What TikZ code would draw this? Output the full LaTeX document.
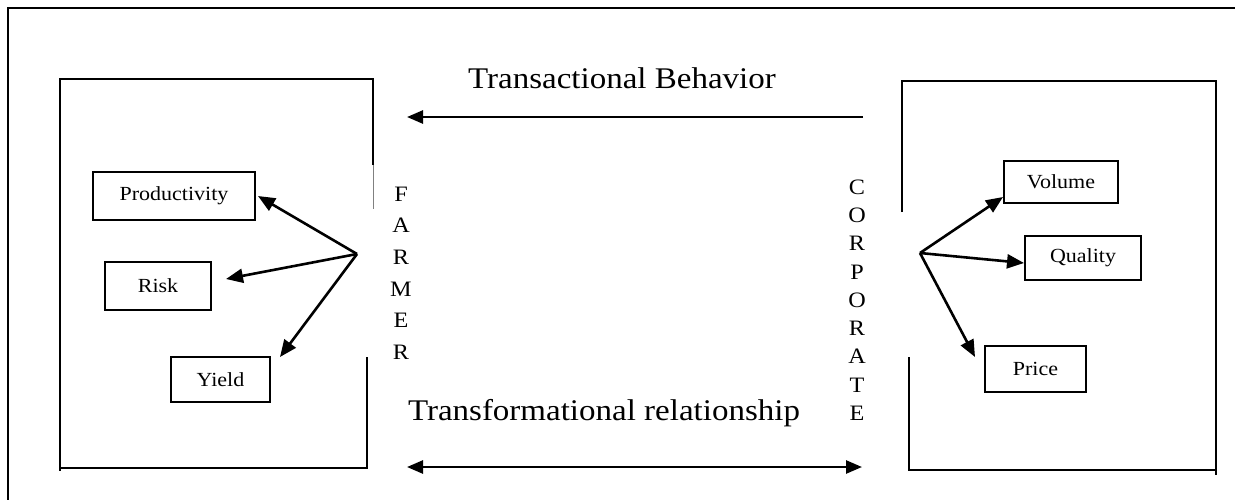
\documentclass[tikz,border=0pt]{standalone}
\usepackage{fontspec}
\setmainfont[FakeStretch=1.1]{Liberation Serif}
\usetikzlibrary{arrows.meta}
\begin{document}
\begin{tikzpicture}[x=1pt,y=-1pt,
  outerframe/.style={line width=2.4pt},
  panel/.style={line width=2pt},
  item/.style={draw,line width=1.8pt,rectangle,inner sep=0pt,font=\fontsize{20}{24}\selectfont},
  link/.style={line width=2.6pt,-{Triangle[length=17pt,width=14pt]}},
  biglink/.style={line width=2.6pt,{Triangle[length=16pt,width=13pt]}-{Triangle[length=16pt,width=13pt]}},
  letter/.style={inner sep=0pt,anchor=base,font=\fontsize{22}{26}\selectfont},
  heading/.style={inner sep=0pt,anchor=base,font=\fontsize{30}{36}\selectfont}]
\useasboundingbox (0,0) rectangle (1235,499);
\clip (0,0) rectangle (1235,499);
% outer frame (cut by the page at right and bottom)
\draw[outerframe] (8,8) rectangle (1260,520);
% farmer panel
\draw[panel] (373,165) -- (373,79) -- (60,79) -- (60,471);
\draw[panel] (60,468) -- (367,468) -- (367,357);
\draw[line width=0.8pt,gray] (373,165) -- (373,209);
% corporate panel
\draw[panel] (902,212) -- (902,81) -- (1216,81) -- (1216,475);
\draw[panel] (909,357) -- (909,470) -- (1216,470);
% boxes
\node[item,minimum width=162pt,minimum height=48pt] (prod) at (174,196) {Productivity};
\node[item,minimum width=106pt,minimum height=48pt] (risk) at (158,286) {Risk};
\node[item,minimum width=99pt,minimum height=45pt] (yield) at (220.5,379.5) {Yield};
\node[item,minimum width=114pt,minimum height=42pt] (volume) at (1061,182) {Volume};
\node[item,minimum width=116pt,minimum height=44pt] (quality) at (1083,258) {Quality};
\node[item,minimum width=101pt,minimum height=46pt] (price) at (1035.5,369) {Price};
% vertical words
\foreach \c [count=\i] in {F,A,R,M,E,R}
  \node[letter] (farmer\i) at (401,{201.3+31.6*(\i-1)}) {\c};
\foreach \c [count=\i] in {C,O,R,P,O,R,A,T,E}
  \node[letter] (corp\i) at (857,{194.3+28.25*(\i-1)}) {\c};
% headings
\node[heading] (tb) at (622,88) {Transactional Behavior};
\node[heading] (tr) at (604,420) {Transformational relationship};
% arrow coordinates
\coordinate (fo) at (357,254);
\coordinate (tipP) at (258,196);
\coordinate (tipR) at (226,279);
\coordinate (tipY) at (280,357);
\coordinate (co) at (920,253);
\coordinate (tipV) at (1003,197);
\coordinate (tipQ) at (1024,263);
\coordinate (tipPr) at (975,357);
\coordinate (tbR) at (863,117);
\coordinate (tbL) at (407,117);
\coordinate (trL) at (407,467);
\coordinate (trR) at (862,467);
% connectors
\draw[link] (fo) -- (tipP);
\draw[link] (fo) -- (tipR);
\draw[link] (fo) -- (tipY);
\draw[link] (co) -- (tipV);
\draw[link] (co) -- (tipQ);
\draw[link] (co) -- (tipPr);
\draw[biglink,-{Triangle[length=16pt,width=13pt]}] (tbR) -- (tbL);
\draw[biglink] (trL) -- (trR);
\end{tikzpicture}
\end{document}
